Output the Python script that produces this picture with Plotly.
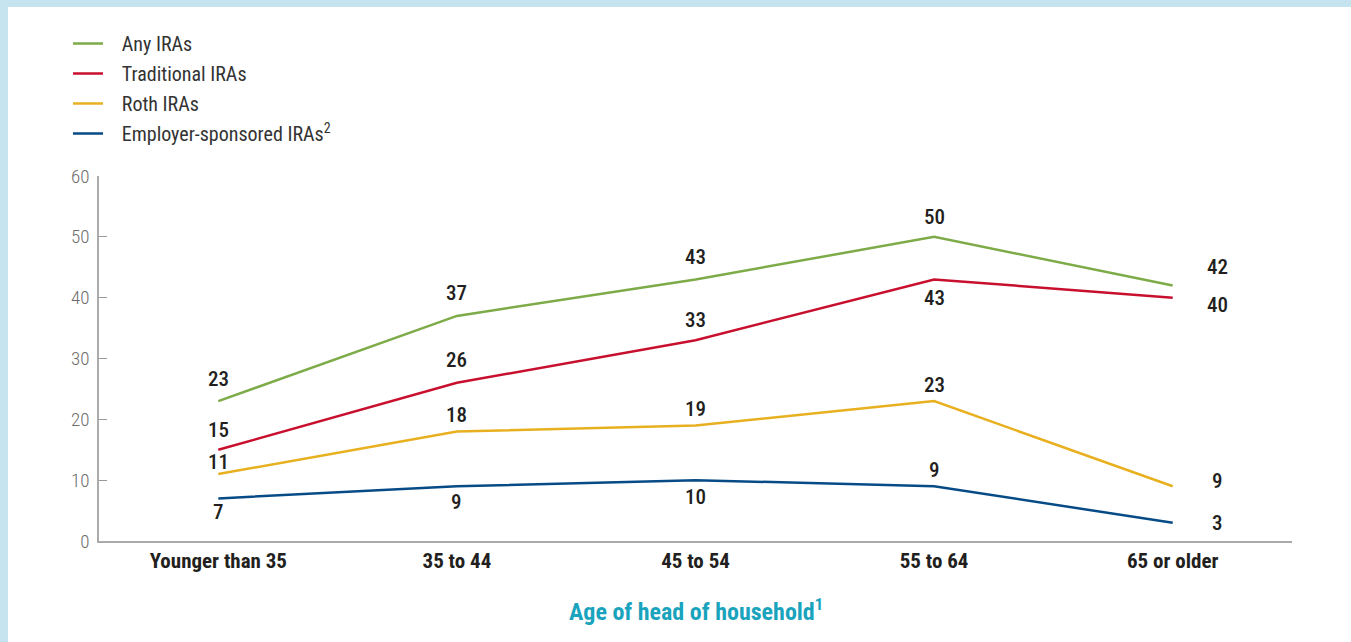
import plotly.graph_objects as go

categories = ["Younger than 35", "35 to 44", "45 to 54", "55 to 64", "65 or older"]
any_iras = [23, 37, 43, 50, 42]
traditional_iras = [15, 26, 33, 43, 40]
roth_iras = [11, 18, 19, 23, 9]
employer_iras = [7, 9, 10, 9, 3]

series_names = ["Any IRAs", "Traditional IRAs", "Roth IRAs", "Employer-sponsored IRAs<sup>2</sup>"]
series_values = [any_iras, traditional_iras, roth_iras, employer_iras]
series_colors = ["#7dab48", "#c8102e", "#e8b01f", "#064b86"]

# label placement (pixel offsets dx, dy) per point, styling only
label_offsets = [
    [(0, 22), (0, 23), (0, 22), (0, 20), (45, 19)],
    [(0, 20), (0, 23), (0, 20), (0, -19), (45, -7)],
    [(0, 12), (0, 17), (0, 16), (0, 16), (45, 5)],
    [(0, -14), (0, -16), (0, -17), (0, 16), (45, 0)],
]

FONT = "Roboto Condensed, Liberation Sans Narrow, Roboto, sans-serif"
W, H = 1351, 642
ML, MR, MT, MB = 99, 59, 176, 101
PW, PH = W - ML - MR, H - MT - MB

def px_to_paper_x(px):
    return (px - ML) / PW

def px_to_paper_y(py):
    return 1 - (py - MT) / PH

NBSP = "\u00a0"

fig = go.Figure()
annotations = []
for i, (name, vals, col) in enumerate(zip(series_names, series_values, series_colors)):
    fig.add_trace(go.Scatter(
        x=categories, y=vals, mode="lines", name=NBSP * 3 + name,
        line=dict(color=col, width=2.5),
        legendgroup=f"g{i}",
        hoverinfo="skip",
    ))
    for c, v, (dx, dy) in zip(categories, vals, label_offsets[i]):
        annotations.append(dict(
            x=c, y=v, xref="x", yref="y", text=str(v), showarrow=False,
            xshift=dx, yshift=dy,
            font=dict(family=FONT, size=21, color="#231f20", weight=500),
        ))

annotations.append(dict(
    x=0.5, y=px_to_paper_y(610), xref="paper", yref="paper", yanchor="middle",
    text="<b>Age of head of household<sup>1</sup></b>", showarrow=False,
    font=dict(family=FONT, size=24, color="#1aa3bd"),
))

shapes = [
    dict(type="rect", xref="paper", yref="paper", layer="below",
         x0=px_to_paper_x(0), x1=px_to_paper_x(8), y0=px_to_paper_y(H), y1=px_to_paper_y(0),
         fillcolor="#c6e3f0", line=dict(width=0)),
    dict(type="rect", xref="paper", yref="paper", layer="below",
         x0=px_to_paper_x(0), x1=px_to_paper_x(W), y0=px_to_paper_y(7), y1=px_to_paper_y(0),
         fillcolor="#c6e3f0", line=dict(width=0)),
]

fig.update_layout(
    width=W, height=H,
    margin=dict(l=ML, r=MR, t=MT, b=MB, autoexpand=False),
    paper_bgcolor="white", plot_bgcolor="white",
    showlegend=True,
    legend=dict(
        x=px_to_paper_x(68), y=px_to_paper_y(24), xanchor="left", yanchor="top",
        font=dict(family=FONT, size=20, color="#333333"),
        tracegroupgap=1, traceorder="grouped", bgcolor="rgba(0,0,0,0)",
        itemwidth=30,
    ),
    annotations=annotations,
    shapes=shapes,
    xaxis=dict(
        type="category", range=[-0.5, 4.5], showgrid=False, zeroline=False,
        showline=True, linecolor="#aaaaaa", linewidth=1.5, ticks="",
        tickfont=dict(family=FONT, size=21, color="#231f20", weight="bold"),
    ),
    yaxis=dict(
        range=[0, 60], dtick=10, showgrid=False, zeroline=False,
        showline=True, linecolor="#aaaaaa", linewidth=1.5,
        ticks="inside", ticklen=8, tickcolor="#999999", tickwidth=1,
        ticklabelstandoff=4,
        tickfont=dict(family=FONT, size=19, color="#6d6d6d", weight=300),
    ),
)

fig.write_html(
    "out.html",
    config={"displayModeBar": False},
    post_script="document.body.style.margin='0';document.body.style.overflow='hidden';",
)
